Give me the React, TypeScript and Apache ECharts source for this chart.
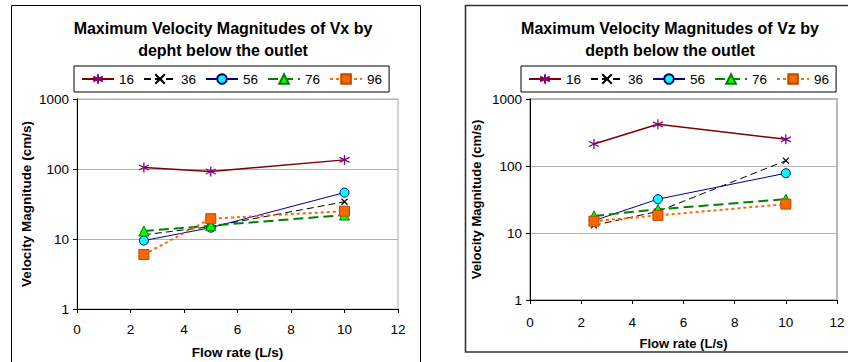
import React, { useEffect, useRef } from "react";
import * as echarts from "echarts";

const flowRates = [2.5, 5, 10];
const depthNames = ["16", "36", "56", "76", "96"];

const vx16 = [105, 92, 135];
const vx36 = [11.5, 15, 34];
const vx56 = [9.5, 14.5, 46];
const vx76 = [13, 15.5, 22];
const vx96 = [6, 19.5, 25];

const vz16 = [213, 419, 250];
const vz36 = [13, 21, 120];
const vz56 = [15.3, 32, 78];
const vz76 = [18, 22.5, 32];
const vz96 = [15, 18.3, 27];

const xTicks = { min: 0, max: 12, interval: 2 };
const yRange = { min: 1, max: 1000 };

const titleLeft = ["Maximum Velocity Magnitudes of Vx by", "depht below the outlet"];
const titleRight = ["Maximum Velocity Magnitudes of Vz by", "depth below the outlet"];
const yName = "Velocity Magnitude (cm/s)";
const xName = "Flow rate (L/s)";

const FONT = "'Liberation Sans', Arial, sans-serif";

const seriesStyles = [
  {
    lineStyle: { color: "#800000", width: 1.5, type: "solid" as any },
    symbol: "path://M5,0 L5,10 M0.67,2.5 L9.33,7.5 M0.67,7.5 L9.33,2.5",
    symbolSize: 10,
    itemStyle: { color: "rgba(0,0,0,0)", borderColor: "#800080", borderWidth: 1.3 },
  },
  {
    lineStyle: { color: "#000000", width: 1, type: [7, 4] as any },
    symbol: "path://M0,0 L10,10 M0,10 L10,0",
    symbolSize: 6,
    itemStyle: { color: "rgba(0,0,0,0)", borderColor: "#000000", borderWidth: 1.2 },
  },
  {
    lineStyle: { color: "#000080", width: 1, type: "solid" as any },
    symbol: "circle",
    symbolSize: 9,
    itemStyle: { color: "#00FFFF", borderColor: "#000080", borderWidth: 1 },
  },
  {
    lineStyle: { color: "#008000", width: 2, type: [10, 5] as any },
    symbol: "triangle",
    symbolSize: 10,
    itemStyle: { color: "#00FF00", borderColor: "#008000", borderWidth: 1 },
  },
  {
    lineStyle: { color: "#FF6600", width: 2, type: [3, 3] as any },
    symbol: "rect",
    symbolSize: 10,
    itemStyle: { color: "#FF6600", borderColor: "#B84A00", borderWidth: 1 },
  },
];

function makeSeries(values: number[][], axisIndex: number) {
  return values.map((vals, i) => ({
    name: depthNames[i],
    type: "line",
    xAxisIndex: axisIndex,
    yAxisIndex: axisIndex,
    data: flowRates.map((f, j) => [f, vals[j]]),
    ...seriesStyles[i],
    z: 2 + i,
  }));
}

function xAxisCfg(gridIndex: number, nameGap: number, nameSize: number, labelMargin: number) {
  return {
    type: "value",
    gridIndex,
    min: xTicks.min,
    max: xTicks.max,
    interval: xTicks.interval,
    name: xName,
    nameLocation: "middle",
    nameGap,
    nameTextStyle: { fontFamily: FONT, fontWeight: "bold", fontSize: nameSize, color: "#000" },
    axisLine: { show: true, onZero: false, lineStyle: { color: "#000", width: 1 } },
    axisTick: { show: true, length: 4, lineStyle: { color: "#000" } },
    axisLabel: { fontFamily: FONT, fontSize: 13.5, color: "#000", margin: labelMargin },
    splitLine: { show: false },
  };
}

function yAxisCfg(gridIndex: number, nameGap: number, nameSize: number) {
  return {
    type: "log",
    logBase: 10,
    gridIndex,
    min: yRange.min,
    max: yRange.max,
    name: yName,
    nameLocation: "middle",
    nameGap,
    nameRotate: 90,
    nameTextStyle: { fontFamily: FONT, fontWeight: "bold", fontSize: nameSize, color: "#000" },
    axisLine: { show: true, lineStyle: { color: "#000", width: 1 } },
    axisTick: { show: true, length: 4, lineStyle: { color: "#000" } },
    axisLabel: {
      fontFamily: FONT,
      fontSize: 13.5,
      color: "#000",
      margin: 8,
      formatter: (v: number) => String(Math.round(v)),
    },
    splitLine: { show: true, lineStyle: { color: "#b4b4b4", width: 1 } },
    minorTick: { show: false },
    minorSplitLine: { show: false },
  };
}

function legendCfg(left: number) {
  return {
    data: depthNames,
    left,
    top: 66,
    width: 330,
    orient: "horizontal",
    itemWidth: 32,
    itemHeight: 12,
    itemGap: 9,
    padding: [6, 7],
    borderColor: "#000",
    borderWidth: 1,
    backgroundColor: "#fff",
    textStyle: { fontFamily: FONT, fontSize: 13.5, color: "#000" },
  };
}

function titleText(x: number, lines: string[]) {
  return {
    type: "text",
    x,
    y: 17,
    style: {
      text: lines.join("\n"),
      font: `bold 16px ${FONT}`,
      fill: "#000",
      align: "center",
      verticalAlign: "top",
      lineHeight: 22,
    },
  };
}

export default function App() {
  const ref = useRef<HTMLDivElement>(null);
  useEffect(() => {
    document.body.style.margin = "0";
    if (!ref.current) return;
    const chart = echarts.init(ref.current, undefined, { renderer: "svg" });
    chart.setOption({
      animation: false,
      backgroundColor: "#fff",
      textStyle: { fontFamily: FONT },
      graphic: [
        {
          type: "rect",
          shape: { x: 11.5, y: 5.5, width: 409, height: 400 },
          style: { fill: "none", stroke: "#000", lineWidth: 1 },
          z: -10,
        },
        {
          type: "rect",
          shape: { x: 465.5, y: 5.5, width: 400, height: 346.5 },
          style: { fill: "none", stroke: "#333", lineWidth: 1.6 },
          z: -10,
        },
        titleText(223, titleLeft),
        titleText(670, titleRight),
      ],
      legend: [legendCfg(74), legendCfg(521)],
      grid: [
        { left: 77, top: 99, width: 321, height: 210, show: true, borderColor: "#a8a8a8", borderWidth: 1, backgroundColor: "#fff", outerBoundsMode: "none", containLabel: false },
        { left: 530, top: 99, width: 307, height: 201, show: true, borderColor: "#b8b8b8", borderWidth: 2, backgroundColor: "#fff", outerBoundsMode: "none", containLabel: false },
      ],
      xAxis: [xAxisCfg(0, 36, 13.5, 13), xAxisCfg(1, 37, 13, 15)],
      yAxis: [yAxisCfg(0, 44, 13.5), yAxisCfg(1, 47, 13)],
      series: [
        ...makeSeries([vx16, vx36, vx56, vx76, vx96], 0),
        ...makeSeries([vz16, vz36, vz56, vz76, vz96], 1),
      ],
    });
    return () => chart.dispose();
  }, []);
  return <div ref={ref} style={{ width: 848, height: 362 }} />;
}
